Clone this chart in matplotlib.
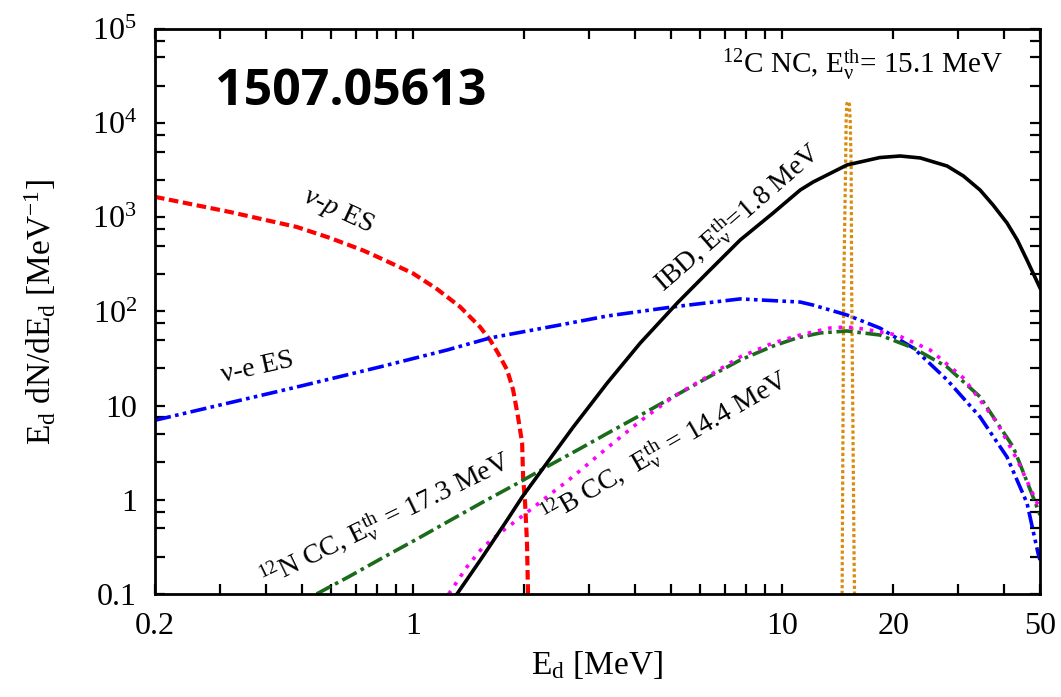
import matplotlib as mpl
mpl.use('Agg')
import matplotlib.pyplot as plt
from matplotlib.ticker import FixedLocator, FixedFormatter, NullFormatter

plt.rcParams['font.family'] = ['Liberation Serif', 'DejaVu Serif']
plt.rcParams['mathtext.fontset'] = 'custom'
plt.rcParams['mathtext.rm'] = 'Liberation Serif'
plt.rcParams['mathtext.it'] = 'Liberation Serif:italic'
plt.rcParams['mathtext.bf'] = 'Liberation Serif:bold'

# nu-p elastic scattering
vp_x = [0.2, 0.319, 0.485, 0.596, 0.733, 0.814, 1.0, 1.162, 1.342, 1.52, 1.618, 1.70, 1.80,
        1.868, 1.926, 1.976, 1.988, 2.013, 2.037, 2.05]
vp_y = [1650, 1140, 789, 604, 445, 370, 254, 173, 112, 68.4, 49.8, 36.2, 23.9,
        14.7, 7.59, 4.02, 1.75, 0.925, 0.348, 0.1]

# nu-e elastic scattering
ve_x = [0.2, 0.485, 0.814, 1.237, 1.618, 2.50, 3.36, 5.07, 7.70, 11.2, 12.14, 15.0, 18.4,
        22.7, 28.0, 34.4, 40.7, 46.1, 49.4, 50]
ve_y = [7.0, 15.8, 25.8, 39.0, 52.4, 71.9, 89.6, 112, 136, 126, 117, 91.8, 66.8,
        40.9, 18.8, 7.59, 2.85, 0.925, 0.27, 0.23]

# inverse beta decay
ibd_x = [1.316, 1.52, 1.618, 1.80, 1.976, 2.35, 2.72, 3.36, 4.13, 5.20, 6.26, 7.70,
         9.46, 11.2, 12.14, 15.0, 18.4, 20.9, 23.7, 28.0, 31.0, 34.4, 37.3, 40.7, 43.4, 46.1, 50]
ibd_y = [0.1, 0.227, 0.327, 0.611, 1.07, 2.72, 5.95, 17.4, 46.3, 123, 256, 574,
         1112, 1950, 2372, 3600, 4313, 4480, 4270, 3510, 2750, 1950, 1352, 871, 574, 352, 178]

# 12N CC
n12_x = [0.548, 0.675, 0.830, 1.026, 1.26, 1.548, 1.915, 2.35, 2.84, 3.36, 4.13, 5.07, 6.26,
         7.70, 9.46, 10.98, 12.7, 15.0, 18.4, 22.7, 28.0, 34.4, 42.3, 47.9, 50]
n12_y = [0.1, 0.155, 0.244, 0.384, 0.604, 0.948, 1.49, 2.34, 3.51, 5.07, 7.91, 12.4, 19.7,
         30.5, 43.0, 52.4, 59.2, 62.1, 56.3, 40.9, 25.8, 12.4, 3.64, 1.07, 0.69]

# 12B CC
b12_x = [1.25, 1.40, 1.548, 1.72, 1.915, 2.12, 2.35, 2.62, 2.84, 3.36, 4.13, 5.07, 6.26,
         7.70, 9.46, 11.2, 13.5, 15.0, 16.6, 20.5, 25.2, 31.0, 38.3, 43.4, 49.1, 50]
b12_y = [0.1, 0.194, 0.315, 0.445, 0.61, 0.83, 1.14, 1.58, 2.05, 3.56, 6.87, 12.4, 20.2,
         32.9, 46.3, 56.3, 66.8, 68.5, 65.2, 56.3, 39.0, 19.7, 6.55, 2.65, 0.925, 0.85]

# 12C NC line at 15.1 MeV
c12_x = [14.55, 14.56, 14.64, 14.69, 14.87, 14.92, 14.98, 15.1, 15.22, 15.30, 15.39,
         15.44, 15.54, 15.68, 15.72]
c12_y = [0.1, 0.213, 11.5, 169, 3600, 10800, 16000, 17000, 16000, 10800, 3600,
         169, 11.5, 0.213, 0.1]

x_major = [0.2, 1, 10, 20, 50]
x_major_labels = ['0.2', '1', '10', '20', '50']
x_minor = [0.3, 0.4, 0.5, 0.6, 0.7, 0.8, 0.9, 2, 3, 4, 5, 6, 7, 8, 9, 30, 40]
y_major = [0.1, 1, 10, 1e2, 1e3, 1e4, 1e5]
y_major_labels = ['0.1', '1', '10', r'$10^2$', r'$10^3$', r'$10^4$', r'$10^5$']
y_minor = [m * 10.0 ** e for e in range(-1, 5) for m in (2.5, 5, 7.5)]

fig = plt.figure(figsize=(10.61, 6.97), dpi=100)
ax = fig.add_axes([155 / 1061, 1 - 594 / 697, (1040 - 155) / 1061, (594 - 29) / 697])

ax.plot(c12_x, c12_y, color='#d98b0d', lw=2.3, ls=(0, (1, 0.8)))
ax.plot(vp_x, vp_y, color='#ff0000', lw=3, ls=(0, (2.3, 1.1)))
ax.plot(ve_x, ve_y, color='#0000ff', lw=2.6, ls=(0, (4.5, 1.2, 1, 1.2, 1, 1.2)))
ax.plot(n12_x, n12_y, color='#1a6b1a', lw=2.6, ls=(0, (4.5, 1.3, 1, 1.3)))
ax.plot(b12_x, b12_y, color='#ff00ff', lw=2.6, ls=(0, (1, 1.9)))
ax.plot(ibd_x, ibd_y, color='black', lw=2.6)

ax.set_xscale('log')
ax.set_yscale('log')
ax.set_xlim(0.2, 50)
ax.set_ylim(0.1, 1e5)

ax.xaxis.set_major_locator(FixedLocator(x_major))
ax.xaxis.set_major_formatter(FixedFormatter(x_major_labels))
ax.xaxis.set_minor_locator(FixedLocator(x_minor))
ax.xaxis.set_minor_formatter(NullFormatter())
ax.yaxis.set_major_locator(FixedLocator(y_major))
ax.yaxis.set_major_formatter(FixedFormatter(y_major_labels))
ax.yaxis.set_minor_locator(FixedLocator(y_minor))
ax.yaxis.set_minor_formatter(NullFormatter())

ax.tick_params(which='both', direction='in', top=True, right=True, length=7, width=1.6)
ax.tick_params(axis='x', which='major', labelsize=23, pad=13)
ax.tick_params(axis='y', which='major', labelsize=23, pad=13)
for s in ax.spines.values():
    s.set_linewidth(2)

# 曲线标注
ax.text(0.626, 1167, r'$\nu$-$p$ ES', fontsize=20, rotation=-25, ha='center', va='center', rotation_mode='anchor')
ax.text(0.38, 25.1, 'ν-e ES', fontsize=20, rotation=12.5, ha='center', va='center', rotation_mode='anchor')
ax.text(7.56, 984, r'IBD, E$_{\mathrm{\nu}}^{\mathrm{th}}$=1.8 MeV', fontsize=20, rotation=41,
        ha='center', va='center', rotation_mode='anchor')
ax.text(16.5, 41500, r'$^{12}$C NC, E$_{\mathrm{\nu}}^{\mathrm{th}}$= 15.1 MeV', fontsize=21, ha='center', va='center')
ax.text(0.84, 0.61, r'$^{12}$N CC, E$_{\mathrm{\nu}}^{\mathrm{th}}$ = 17.3 MeV', fontsize=20, rotation=26,
        ha='center', va='center', rotation_mode='anchor')
ax.text(4.82, 3.56, r'$^{12}$B CC,  E$_{\mathrm{\nu}}^{\mathrm{th}}$ = 14.4 MeV', fontsize=20, rotation=30,
        ha='center', va='center', rotation_mode='anchor')

fig.text(215 / 1061, 1 - 105 / 697, '1507.05613', fontsize=36, fontweight='bold',
         family=['Open Sans', 'DejaVu Sans'], ha='left', va='baseline')

fig.text(40 / 1061, 1 - 312 / 697, r'E$_{\mathrm{d}}$ dN/dE$_{\mathrm{d}}$ [MeV$^{\mathrm{-1}}$]', fontsize=24,
         rotation=90, ha='center', va='center')
fig.text(597 / 1061, 1 - 665 / 697, r'E$_{\mathrm{d}}$ [MeV]', fontsize=24, ha='center', va='center')

fig.savefig('out.png', dpi=100)
